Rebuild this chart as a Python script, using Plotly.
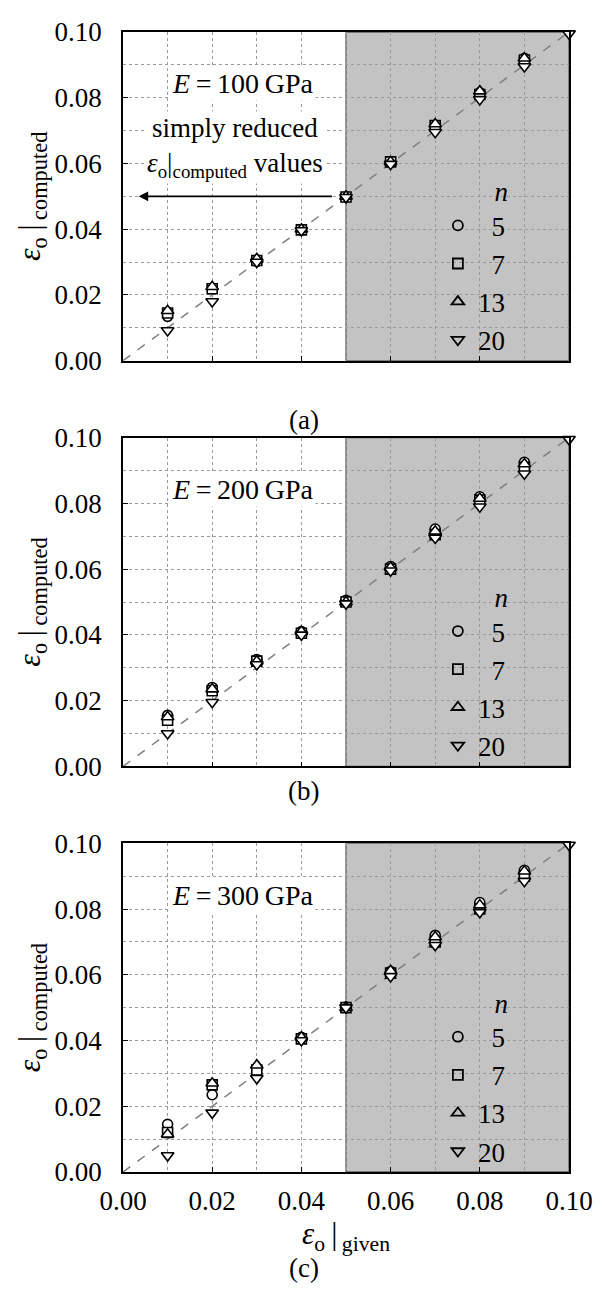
import plotly.graph_objects as go

# ---------------- data ----------------
eps_given = [0.01, 0.02, 0.03, 0.04, 0.05, 0.06, 0.07, 0.08, 0.09, 0.10]

# E = 100 GPa
a_n5  = [0.0135, 0.0220, 0.0302, 0.0398, 0.0498, 0.0603, 0.0715, 0.0815, 0.0920, None]
a_n7  = [0.0145, 0.0219, 0.0305, 0.0398, 0.0498, 0.0605, 0.0715, 0.0810, 0.0915, None]
a_n13 = [0.0152, 0.0225, 0.0310, 0.0400, 0.0500, 0.0605, 0.0720, 0.0820, 0.0920, None]
a_n20 = [0.0092, 0.0180, 0.0300, 0.0396, 0.0497, 0.0598, 0.0695, 0.0795, 0.0895, 0.0995]

# E = 200 GPa
b_n5  = [0.0155, 0.0240, 0.0325, 0.0410, 0.0505, 0.0608, 0.0722, 0.0820, 0.0925, None]
b_n7  = [0.0140, 0.0230, 0.0320, 0.0405, 0.0500, 0.0600, 0.0705, 0.0810, 0.0910, None]
b_n13 = [0.0150, 0.0235, 0.0320, 0.0410, 0.0500, 0.0605, 0.0715, 0.0815, 0.0920, None]
b_n20 = [0.0100, 0.0195, 0.0310, 0.0400, 0.0495, 0.0595, 0.0695, 0.0790, 0.0890, 0.0995]

# E = 300 GPa
c_n5  = [0.0145, 0.0235, 0.0315, 0.0410, 0.0502, 0.0610, 0.0720, 0.0820, 0.0918, None]
c_n7  = [0.0120, 0.0265, 0.0310, 0.0405, 0.0500, 0.0605, 0.0700, 0.0800, 0.0900, None]
c_n13 = [0.0115, 0.0270, 0.0325, 0.0410, 0.0500, 0.0612, 0.0715, 0.0812, 0.0915, None]
c_n20 = [0.0050, 0.0180, 0.0285, 0.0400, 0.0500, 0.0595, 0.0690, 0.0790, 0.0885, 0.0995]

ref_line = [0.0, 0.10]
n_labels = ["5", "7", "13", "20"]
E_labels = ["100", "200", "300"]
panel_labels = ["(a)", "(b)", "(c)"]
tick_vals = [0.00, 0.02, 0.04, 0.06, 0.08, 0.10]
tick_text = ["0.00", "0.02", "0.04", "0.06", "0.08", "0.10"]

panels = [
    [a_n5, a_n7, a_n13, a_n20],
    [b_n5, b_n7, b_n13, b_n20],
    [c_n5, c_n7, c_n13, c_n20],
]

# ---------------- styling ----------------
FONT = "Liberation Serif"
OFF = 8  # page body margin offset of the plot div
W, H = 602 - OFF, 1300 - OFF
# target page pixel geometry
PL, PR = 123, 572
panel_px = [(17, 350), (428, 761), (839, 1172)]
label_px = [393, 803, 1286]

ML = PL - OFF
MR = W - (PR - OFF)
MT = panel_px[0][0] - OFF
MB = H - (panel_px[2][1] - OFF)

symbols = ["circle", "square", "triangle-up", "triangle-down"]
symbols_open = ["circle-open", "square-open", "triangle-up-open", "triangle-down-open"]
msize = [10, 10, 11, 11]

plot_h = H - MT - MB
def py(y):  # page pixel -> paper y
    return (H - MB - (y - OFF)) / plot_h
def px(x):  # page pixel -> paper x
    return ((x - OFF) - ML) / (W - ML - MR)

fig = go.Figure()

GRID = "#9a9a9a"
axis_common = dict(
    range=[0, 0.1],
    showline=True, linecolor="black", linewidth=1.5, mirror=True,
    showgrid=True, gridcolor=GRID, griddash="dot", gridwidth=1,
    zeroline=False,
    ticks="inside", ticklen=5, tickcolor="black",
    tickvals=tick_vals, ticktext=tick_text,
    minor=dict(dtick=0.01, tick0=0, showgrid=True, gridcolor=GRID,
               griddash="dot", gridwidth=1, ticks=""),
    tickfont=dict(family=FONT, size=27, color="black"),
)

legend_names = ["legend", "legend2", "legend3"]
layout_updates = {}
for i, series in enumerate(panels):
    k = "" if i == 0 else str(i + 1)
    xa, ya = "x" + k, "y" + k
    top, bot = panel_px[i]
    # gray region
    fig.add_shape(type="rect", xref=xa, yref=ya, x0=0.05, x1=0.1, y0=0, y1=0.1,
                  fillcolor="#c3c3c3", line=dict(color="#5e5e5e", width=1.3),
                  layer="below")
    # reference diagonal
    fig.add_trace(go.Scatter(x=ref_line, y=ref_line, mode="lines",
                             line=dict(color="#7f7f7f", dash="dash", width=1.5),
                             xaxis=xa, yaxis=ya, showlegend=False, hoverinfo="skip"))
    # data markers
    for j, ys in enumerate(series):
        fig.add_trace(go.Scatter(
            x=eps_given, y=ys, mode="markers",
            marker=dict(symbol=symbols[j], size=msize[j], color="white",
                        line=dict(color="black", width=1.6)),
            xaxis=xa, yaxis=ya, showlegend=False, cliponaxis=False))
    # legend-only entries
    for j, lab in enumerate(n_labels):
        name = ("\u2007" + lab) if len(lab) == 1 else lab
        fig.add_trace(go.Scatter(
            x=[None], y=[None], mode="markers", name=name,
            marker=dict(symbol=symbols_open[j], size=msize[j], color="black",
                        line=dict(color="black", width=1.8)),
            xaxis=xa, yaxis=ya, legend=legend_names[i]))

    dom_y = [py(bot), py(top)]
    xaxis = dict(axis_common, domain=[0, 1], anchor=ya)
    if i < 2:
        xaxis["showticklabels"] = False
    else:
        xaxis["ticklabelstandoff"] = 4
        xaxis["title"] = dict(text="<i>ε</i><sub>o</sub>\u2009|<sub>\u2009given</sub>",
                              font=dict(family=FONT, size=31, color="black"),
                              standoff=0)
    yaxis = dict(axis_common, domain=dom_y, anchor=xa, ticklabelstandoff=14,
                 title=dict(text="<i>ε</i><sub>o</sub>\u2009|<sub>\u2009computed</sub>",
                            font=dict(family=FONT, size=32, color="black"),
                            standoff=4))
    layout_updates["xaxis" + k] = xaxis
    layout_updates["yaxis" + k] = yaxis

    layout_updates[legend_names[i]] = dict(
        x=px(440), y=py(top + 136), xanchor="left", yanchor="top",
        bgcolor="rgba(0,0,0,0)", borderwidth=0,
        font=dict(family=FONT, size=27, color="black"),
        title=dict(text="<i>n</i>", side="top right",
                   font=dict(family=FONT, size=27, color="black")),
        itemwidth=30, tracegroupgap=0, itemsizing="trace",
    )

    # E label
    fig.add_annotation(xref=xa, yref=ya, x=0.027, y=0.0842,
                       text="<i>E</i>\u2009=\u2009" + E_labels[i] + "\u2009GPa",
                       showarrow=False, bgcolor="white",
                       font=dict(family=FONT, size=28, color="black"))
    # panel label
    fig.add_annotation(xref="paper", yref="paper", x=px(305), y=py(label_px[i]),
                       text=panel_labels[i], showarrow=False,
                       font=dict(family=FONT, size=27, color="black"))

# annotation + arrow in panel (a)
fig.add_annotation(xref="x", yref="y", x=0.0252, y=0.0650,
                   text="simply reduced<br><i>ε</i><sub>o</sub>|<sub>computed</sub> values",
                   showarrow=False, bgcolor="white", align="center",
                   font=dict(family=FONT, size=27, color="black"))
fig.add_annotation(xref="x", yref="y", x=0.0035, y=0.05, ax=0.0472, ay=0.05,
                   axref="x", ayref="y", text="", showarrow=True,
                   arrowhead=2, arrowsize=1.2, arrowwidth=1.6, arrowcolor="black")

fig.update_layout(
    width=W, height=H,
    margin=dict(l=ML, r=MR, t=MT, b=MB),
    paper_bgcolor="white", plot_bgcolor="white",
    font=dict(family=FONT, color="black"),
    **layout_updates,
)

fig.write_html("out.html")
